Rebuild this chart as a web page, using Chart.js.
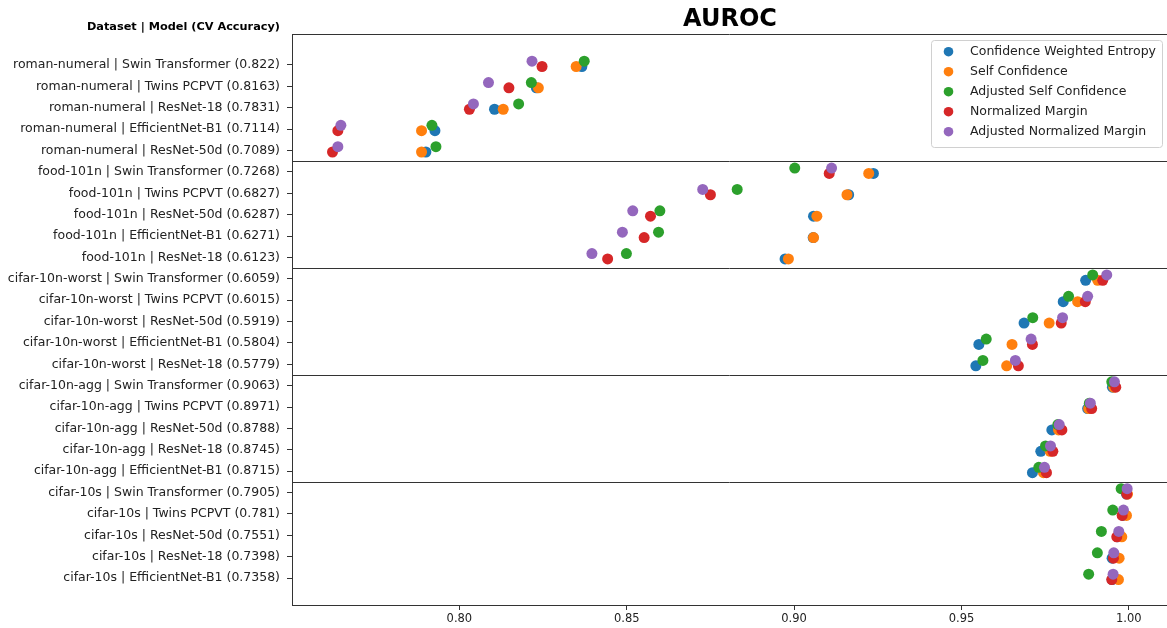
<!DOCTYPE html>
<html>
<head>
<meta charset="utf-8">
<script src="https://cdn.jsdelivr.net/npm/chart.js@4/dist/chart.umd.min.js"></script>
<style>
  html, body { margin: 0; padding: 0; background: #fff; }
  #wrap { width: 1167px; height: 628px; position: relative; }
</style>
</head>
<body>
<div id="wrap"><canvas id="c" width="1167" height="628"></canvas></div>
<script>
const categories = [
  "roman-numeral | Swin Transformer (0.822)",
  "roman-numeral | Twins PCPVT (0.8163)",
  "roman-numeral | ResNet-18 (0.7831)",
  "roman-numeral | EfficientNet-B1 (0.7114)",
  "roman-numeral | ResNet-50d (0.7089)",
  "food-101n | Swin Transformer (0.7268)",
  "food-101n | Twins PCPVT (0.6827)",
  "food-101n | ResNet-50d (0.6287)",
  "food-101n | EfficientNet-B1 (0.6271)",
  "food-101n | ResNet-18 (0.6123)",
  "cifar-10n-worst | Swin Transformer (0.6059)",
  "cifar-10n-worst | Twins PCPVT (0.6015)",
  "cifar-10n-worst | ResNet-50d (0.5919)",
  "cifar-10n-worst | EfficientNet-B1 (0.5804)",
  "cifar-10n-worst | ResNet-18 (0.5779)",
  "cifar-10n-agg | Swin Transformer (0.9063)",
  "cifar-10n-agg | Twins PCPVT (0.8971)",
  "cifar-10n-agg | ResNet-50d (0.8788)",
  "cifar-10n-agg | ResNet-18 (0.8745)",
  "cifar-10n-agg | EfficientNet-B1 (0.8715)",
  "cifar-10s | Swin Transformer (0.7905)",
  "cifar-10s | Twins PCPVT (0.781)",
  "cifar-10s | ResNet-50d (0.7551)",
  "cifar-10s | ResNet-18 (0.7398)",
  "cifar-10s | EfficientNet-B1 (0.7358)"
];

const seriesNames = [
  "Confidence Weighted Entropy",
  "Self Confidence",
  "Adjusted Self Confidence",
  "Normalized Margin",
  "Adjusted Normalized Margin"
];

const confidenceWeightedEntropy = [
  0.8366, 0.8230, 0.8105, 0.7927, 0.7900,
  0.9237, 0.9163, 0.9058, 0.9057, 0.8973,
  0.9871, 0.9804, 0.9687, 0.9552, 0.9543,
  0.9951, 0.9877, 0.9770, 0.9737, 0.9712,
  0.9993, 0.9982, 0.9966, 0.9950, 0.9950
];
const selfConfidence = [
  0.8349, 0.8236, 0.8131, 0.7887, 0.7887,
  0.9223, 0.9158, 0.9068, 0.9058, 0.8983,
  0.9907, 0.9847, 0.9762, 0.9651, 0.9635,
  0.9955, 0.9880, 0.9790, 0.9765, 0.9745,
  0.9996, 0.9993, 0.9979, 0.9971, 0.9969
];
const adjustedSelfConfidence = [
  0.8373, 0.8215, 0.8177, 0.7918, 0.7930,
  0.9002, 0.8830, 0.8599, 0.8595, 0.8499,
  0.9892, 0.9820, 0.9713, 0.9574, 0.9564,
  0.9949, 0.9882, 0.9788, 0.9751, 0.9731,
  0.9977, 0.9952, 0.9918, 0.9906, 0.9880
];
const normalizedMargin = [
  0.8247, 0.8148, 0.8030, 0.7637, 0.7621,
  0.9105, 0.8750, 0.8571, 0.8552, 0.8443,
  0.9922, 0.9870, 0.9798, 0.9712, 0.9670,
  0.9961, 0.9889, 0.9800, 0.9773, 0.9754,
  0.9994, 0.9980, 0.9964, 0.9954, 0.9949
];
const adjustedNormalizedMargin = [
  0.8217, 0.8087, 0.8042, 0.7646, 0.7637,
  0.9112, 0.8727, 0.8518, 0.8487, 0.8396,
  0.9934, 0.9877, 0.9802, 0.9708, 0.9661,
  0.9957, 0.9885, 0.9792, 0.9766, 0.9748,
  0.9995, 0.9984, 0.9970, 0.9955, 0.9953
];

const xTickValues = [0.80, 0.85, 0.90, 0.95, 1.00];

const seriesValues = [confidenceWeightedEntropy, selfConfidence, adjustedSelfConfidence, normalizedMargin, adjustedNormalizedMargin];
const colors = ["#1f77b4", "#ff7f0e", "#2ca02c", "#d62728", "#9467bd"];
// small vertical dodge per series (strip-plot style)
const dodge = [0.07, 0.07, -0.18, 0.07, -0.18];

const FONT = '"DejaVu Sans", "Liberation Sans", sans-serif';

const datasets = seriesValues.map((vals, s) => ({
  label: seriesNames[s],
  data: vals.map((v, i) => ({ x: v, y: i + dodge[s] })),
  backgroundColor: colors[s],
  borderWidth: 0,
  pointRadius: 5.5,
  pointHoverRadius: 5.5,
  order: seriesValues.length - s
}));

// group boundaries derived from dataset prefix
const groupBreaks = [];
for (let i = 1; i < categories.length; i++) {
  if (categories[i].split(" | ")[0] !== categories[i - 1].split(" | ")[0]) groupBreaks.push(i - 0.5);
}

const framePlugin = {
  id: "frame",
  beforeDatasetsDraw(chart) {
    const { ctx, chartArea } = chart;
    const ys = chart.scales.y;
    ctx.save();
    ctx.strokeStyle = "#333";
    ctx.lineWidth = 1;
    ctx.beginPath();
    ctx.moveTo(chartArea.left, Math.round(chartArea.top) + 0.5);
    ctx.lineTo(chart.width, Math.round(chartArea.top) + 0.5);
    groupBreaks.forEach(b => {
      const py = Math.round(ys.getPixelForValue(b)) + 0.5;
      ctx.moveTo(chartArea.left, py);
      ctx.lineTo(chart.width, py);
    });
    // extend bottom spine to the edge of the canvas
    ctx.moveTo(chartArea.right - 1, Math.round(chartArea.bottom) + 0.5);
    ctx.lineTo(chart.width, Math.round(chartArea.bottom) + 0.5);
    ctx.stroke();
    ctx.restore();
  },
  afterDraw(chart) {
    const { ctx } = chart;
    ctx.save();
    // title
    ctx.fillStyle = "#000";
    ctx.font = "bold 24px " + FONT;
    ctx.textAlign = "center";
    ctx.textBaseline = "alphabetic";
    ctx.fillText("AUROC", 730, 26);
    // y axis header
    ctx.font = "bold 11.3px " + FONT;
    ctx.textAlign = "right";
    ctx.fillText("Dataset | Model (CV Accuracy)", 280, 30);
    // legend
    const bx = 931, by = 40.5, bw = 231, bh = 107;
    ctx.fillStyle = "rgba(255,255,255,0.85)";
    ctx.strokeStyle = "#d0d0d0";
    ctx.lineWidth = 1;
    ctx.beginPath();
    if (ctx.roundRect) ctx.roundRect(bx + 0.5, by, bw, bh, 3); else ctx.rect(bx + 0.5, by, bw, bh);
    ctx.fill();
    ctx.stroke();
    ctx.font = "12.5px " + FONT;
    ctx.textAlign = "left";
    ctx.textBaseline = "middle";
    chart.data.datasets.forEach((ds, i) => {
      const cy = 51.7 + i * 20;
      ctx.fillStyle = ds.backgroundColor;
      ctx.beginPath();
      ctx.arc(948.5, cy, 4.8, 0, Math.PI * 2);
      ctx.fill();
      ctx.fillStyle = "#222";
      ctx.fillText(ds.label, 970, cy + 0.5);
    });
    ctx.restore();
  }
};

new Chart(document.getElementById("c"), {
  type: "scatter",
  data: { datasets },
  options: {
    responsive: false,
    animation: false,
    layout: { padding: { top: 34, right: 0, left: 0, bottom: 0 } },
    plugins: { legend: { display: false }, tooltip: { enabled: false }, title: { display: false } },
    scales: {
      x: {
        type: "linear",
        min: 0.75,
        max: 1.00976,
        afterBuildTicks: s => { s.ticks = xTickValues.map(v => ({ value: v })); },
        afterFit: s => { s.height = 23; s.paddingLeft = 0; s.paddingRight = 0; },
        ticks: {
          callback: v => Number(v).toFixed(2),
          color: "#222",
          font: { family: FONT, size: 11.5 },
          padding: 2,
          maxRotation: 0,
          autoSkip: false
        },
        grid: { display: true, drawOnChartArea: false, drawTicks: true, tickLength: 5, color: "#333", lineWidth: 1 },
        border: { display: true, color: "#333", width: 1 }
      },
      y: {
        type: "linear",
        reverse: true,
        min: -1.45,
        max: 25.26,
        afterBuildTicks: s => { s.ticks = categories.map((_, i) => ({ value: i })); },
        afterFit: s => { s.width = 292; s.paddingTop = 0; s.paddingBottom = 0; },
        ticks: {
          callback: v => categories[v],
          color: "#222",
          font: { family: FONT, size: 12.5 },
          padding: 7,
          autoSkip: false
        },
        grid: { display: true, drawOnChartArea: false, drawTicks: true, tickLength: 5, color: "#333", lineWidth: 1 },
        border: { display: true, color: "#333", width: 1 }
      }
    }
  },
  plugins: [framePlugin]
});
</script>
</body>
</html>
